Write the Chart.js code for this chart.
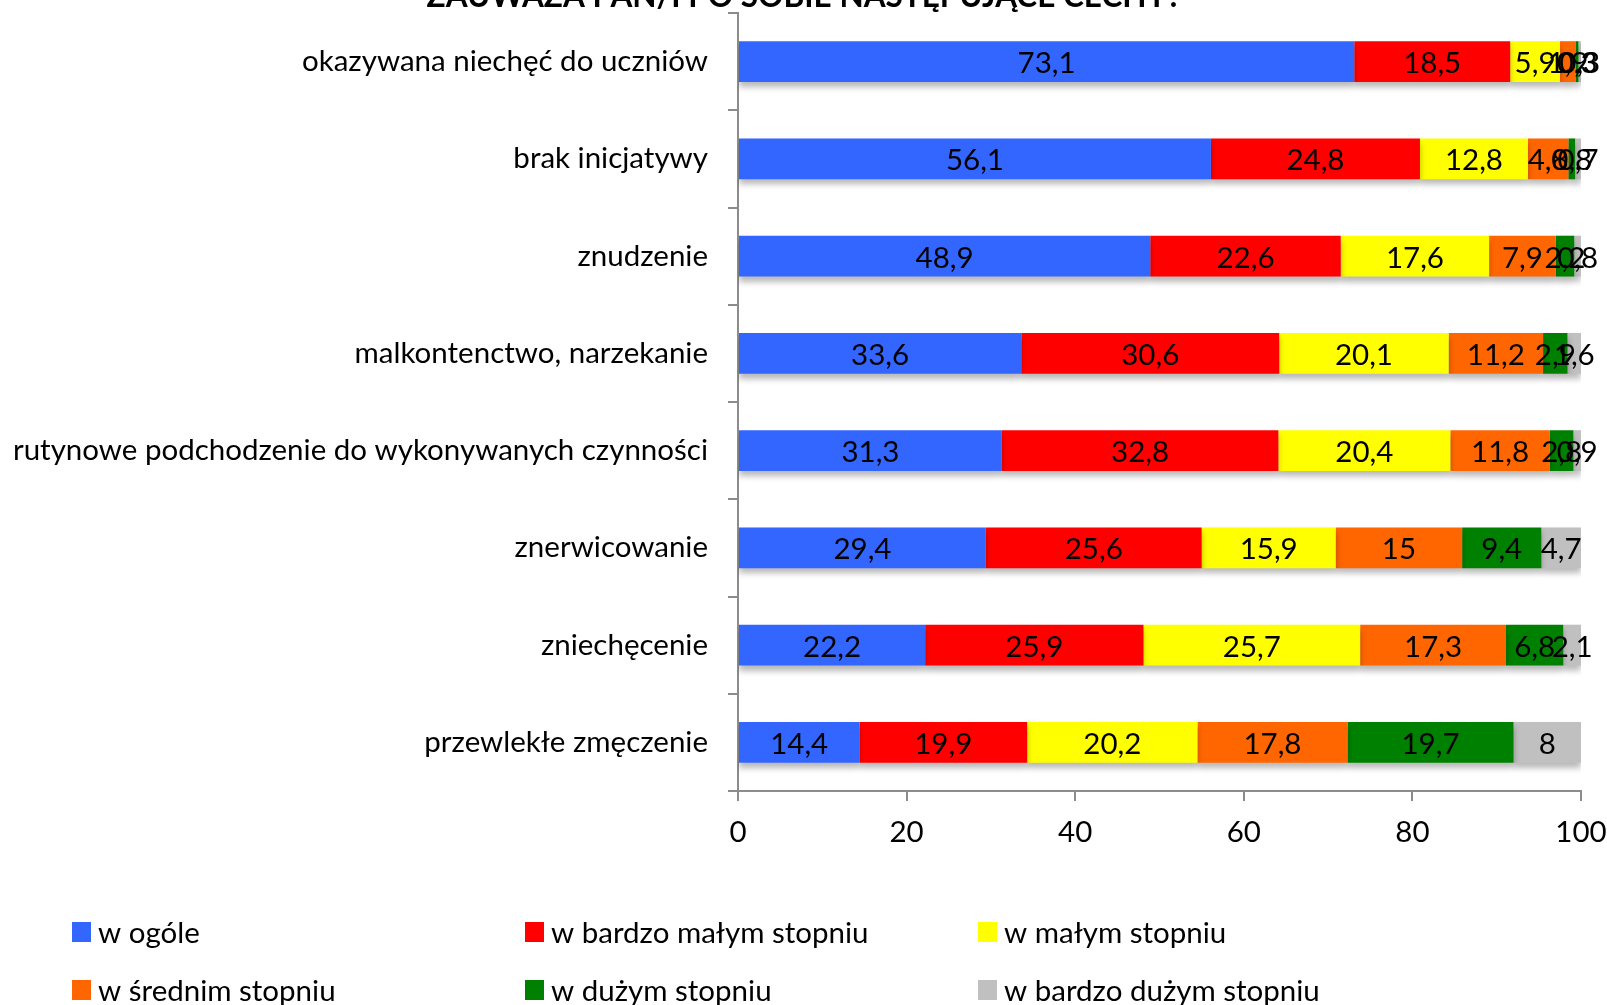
<!DOCTYPE html>
<html>
<head>
<meta charset="utf-8">
<script src="https://cdn.jsdelivr.net/npm/chart.js@4.4.1/dist/chart.umd.min.js"></script>
<style>
    html, body { margin: 0; padding: 0; background: #fff; }
    #wrap { position: relative; width: 1607px; height: 1005px; }
</style>
</head>
<body>
<div id="wrap"><canvas id="chart"></canvas></div>
<script>
const categories = [
    'okazywana niechęć do uczniów',
    'brak inicjatywy',
    'znudzenie',
    'malkontenctwo, narzekanie',
    'rutynowe podchodzenie do wykonywanych czynności',
    'znerwicowanie',
    'zniechęcenie',
    'przewlekłe zmęczenie'
];
const seriesNames = ['w ogóle', 'w bardzo małym stopniu', 'w małym stopniu', 'w średnim stopniu', 'w dużym stopniu', 'w bardzo dużym stopniu'];
const seriesColors = ['#3366FF', '#FF0000', '#FFFF00', '#FF6600', '#008000', '#C0C0C0'];

const wOgole       = [73.1, 56.1, 48.9, 33.6, 31.3, 29.4, 22.2, 14.4];
const wBardzoMalym = [18.5, 24.8, 22.6, 30.6, 32.8, 25.6, 25.9, 19.9];
const wMalym       = [5.9, 12.8, 17.6, 20.1, 20.4, 15.9, 25.7, 20.2];
const wSrednim     = [1.9, 4.8, 7.9, 11.2, 11.8, 15, 17.3, 17.8];
const wDuzym       = [0.3, 0.8, 2.2, 2.9, 2.8, 9.4, 6.8, 19.7];
const wBardzoDuzym = [0.3, 0.7, 0.8, 1.6, 0.9, 4.7, 2.1, 8];

const xTicks = [0, 20, 40, 60, 80, 100];
const title = 'ZAUWAŻA PAN/I PO SOBIE NASTĘPUJĄCE CECHY?';

const FONT = 'Lato, "Open Sans", sans-serif';
const FS = 29.5;
const allSeries = [wOgole, wBardzoMalym, wMalym, wSrednim, wDuzym, wBardzoDuzym];

// bar shadow + value labels + title + legend grid
const decor = {
    id: 'decor',
    beforeDatasetsDraw(chart) {
        const ctx = chart.ctx;
        ctx.save();
        ctx.shadowColor = 'rgba(0,0,0,0.28)';
        ctx.shadowBlur = 6;
        ctx.shadowOffsetX = 0;
        ctx.shadowOffsetY = 5;
    },
    afterDatasetsDraw(chart) {
        const ctx = chart.ctx;
        ctx.restore();
        ctx.save();
        ctx.font = FS + 'px ' + FONT;
        ctx.fillStyle = '#000';
        ctx.textAlign = 'center';
        ctx.textBaseline = 'middle';
        chart.data.datasets.forEach((ds, i) => {
            chart.getDatasetMeta(i).data.forEach((bar, j) => {
                const v = ds.data[j];
                const cx = (bar.x + bar.base) / 2;
                ctx.fillText(String(v).replace('.', ','), cx, bar.y + 2);
            });
        });
        ctx.restore();
    },
    afterDraw(chart) {
        const ctx = chart.ctx;
        ctx.save();
        // title, mostly cut off at the top
        ctx.font = 'bold 31.5px ' + FONT;
        ctx.fillStyle = '#000';
        ctx.textAlign = 'center';
        ctx.textBaseline = 'alphabetic';
        ctx.fillText(title, 804, 7);

        // legend, 3 columns x 2 rows
        const colX = [72, 525, 978];
        const rowY = [932, 990];
        ctx.font = FS + 'px ' + FONT;
        ctx.textAlign = 'left';
        ctx.textBaseline = 'middle';
        chart.data.datasets.forEach((ds, i) => {
            const x = colX[i % 3];
            const y = rowY[Math.floor(i / 3)];
            ctx.fillStyle = ds.backgroundColor;
            ctx.fillRect(x, y - 10, 19, 20);
            ctx.fillStyle = '#000';
            ctx.fillText(ds.label, x + 26, y + 1);
        });
        ctx.restore();
    }
};

new Chart(document.getElementById('chart'), {
    type: 'bar',
    data: {
        labels: categories,
        datasets: seriesNames.map((name, i) => ({
            label: name,
            data: allSeries[i],
            backgroundColor: seriesColors[i],
            borderWidth: 0,
            barPercentage: 0.42,
            categoryPercentage: 1
        }))
    },
    options: {
        indexAxis: 'y',
        responsive: true,
        maintainAspectRatio: false,
        animation: false,
        layout: { padding: { top: 13, right: 26, bottom: 154, left: 0 } },
        plugins: {
            legend: { display: false },
            tooltip: { enabled: false }
        },
        scales: {
            x: {
                stacked: true,
                min: 0,
                max: 100,
                afterBuildTicks: s => { s.ticks = xTicks.map(v => ({ value: v })); },
                afterFit: s => { s.height = 60; s.paddingLeft = 0; s.paddingRight = 0; },
                border: { color: '#8c8c8c', width: 2 },
                grid: { drawOnChartArea: false, color: '#8c8c8c', lineWidth: 2, tickLength: 10 },
                ticks: { color: '#000', font: { family: FONT, size: FS }, padding: 14, maxRotation: 0 }
            },
            y: {
                stacked: true,
                afterFit: s => { s.width = 738; s.paddingTop = 0; s.paddingBottom = 0; },
                border: { color: '#8c8c8c', width: 2 },
                grid: { drawOnChartArea: false, color: '#8c8c8c', lineWidth: 2, tickLength: 10, offset: true },
                ticks: { color: '#000', font: { family: FONT, size: FS }, padding: 20 }
            }
        }
    },
    plugins: [decor]
});
</script>
</body>
</html>
